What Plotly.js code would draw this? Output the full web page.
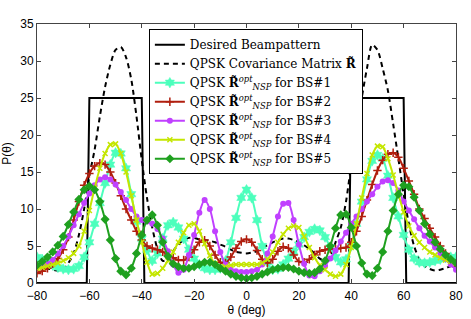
<!DOCTYPE html>
<html><head><meta charset="utf-8">
<script src="https://cdn.plot.ly/plotly-3.0.1.min.js"></script>
<style>html,body{margin:0;padding:0;background:#fff;}#chart{width:471px;height:319px;}</style>
</head><body><div id="chart"></div>
<script>
var theta = [-80,-78,-76,-74,-72,-70,-68,-66,-64,-62,-60,-58,-56,-54,-52,-50,-48,-46,-44,-42,-40,-38,-36,-34,-32,-30,-28,-26,-24,-22,-20,-18,-16,-14,-12,-10,-8,-6,-4,-2,0,2,4,6,8,10,12,14,16,18,20,22,24,26,28,30,32,34,36,38,40,42,44,46,48,50,52,54,56,58,60,62,64,66,68,70,72,74,76,78,80];
var desiredTheta = [-80,-61,-60,-40,-39,39,40,60,61,80];
var desiredP = [0,0,25,25,0,0,25,25,0,0];
var covP = [2.5,2.3,2,1.8,1.7,1.8,2.7,4,6.5,10,
  14.5,18,22.5,26.5,29.5,31.5,31.9,30.5,27.5,22.5,
  16.6,11.5,7.5,4.6,3,3.2,4.3,5.2,5.8,6.1,
  6.1,5.9,5.8,5.7,5.5,5.2,4.9,4.5,4.2,4.1,
  4,
  4.1,4.3,4.7,5.1,5.5,5.8,6,6,5.8,5.5,
  5.1,4.6,4,3.3,3,3.6,5.5,7.5,11,16,
  20.5,25,29,32.2,31.5,29,26,21.5,16.8,12,
  8,5,3.2,2.3,1.9,1.7,1.8,2,2.3,2.5];
var bs1 = [3.5,3.2,2.8,2.4,2.1,1.9,1.8,1.9,2.3,3.5,
  5.5,8,10.8,13.5,16,17.6,17.5,15.5,12,8.3,
  6,4.5,3,4,6,7.8,8.2,7.5,6,4.5,
  3.3,2.5,2,1.8,1.8,2,3,5.5,8.8,11.5,
  12.6,
  11.5,8.5,5,2.8,1.8,1.9,2.5,3.3,4.2,5.2,
  6.2,6.9,7.3,7.1,6.2,4.8,3.5,2.8,3.2,5,
  8,11,14,16.5,17.3,16.8,14.5,11.5,9,6.5,
  4.5,3.3,2.8,2.7,2.8,3,3.2,3.4,3.5,3.5];
var bs2 = [1.3,1.6,2,2.6,3.3,4.5,6.2,8.5,11,13.2,
  14.8,15.8,16.2,16,15,13.5,11.8,10,8.5,7,
  5.8,5,4.7,4.5,4.2,3.8,3.4,3.1,3.1,3.5,
  4.5,5.5,5.8,5,3.8,2.8,2.7,3.5,4.7,5.6,
  5.9,
  5.5,4.4,3.2,2.7,3.2,4.3,4.9,4.7,3.8,2.9,
  2.8,3.2,3.8,4.3,4.5,4.6,4.6,4.7,4.8,5.5,
  7,9,11.2,13.3,15.2,16.6,17.4,17.6,17,15.5,
  13.8,12,10,8.7,7.4,6.2,5,4,3,2.2];
var bs3 = [2.2,2.3,2.6,3.1,4,5,6.3,7.8,9.3,10.8,
  12.1,13.2,14,14.3,14,13.3,12.3,11.2,10,9,
  8.5,8.3,8,7.3,6,4.3,2.5,1.4,1.8,3.8,
  6.5,9.5,11.2,10,7,4.2,2.5,1.8,1.6,1.5,
  1.5,
  1.6,1.8,2.5,4,6.3,9,10.7,10.8,8.5,5.2,
  2.6,1,0.9,1.6,2.3,3.3,4.4,5.6,6.8,8,
  9,10,11,12,13,13.7,13.9,13.5,12.5,11,
  9.8,8.6,7.4,6.4,5.6,4.8,4,3.2,2.5,1.8];
var bs4 = [2,2.1,2.3,2.5,2.7,3,3.4,4,5,7,
  9.8,12.8,15.5,17.5,18.7,18.8,17.5,15,11.8,8.5,
  5.5,2.8,1.2,1.3,2,3,4.2,5.5,6.8,7.8,
  8,7,5.3,3.7,2.6,2.2,2.2,2.4,2.5,2.5,
  2.5,
  2.5,2.5,2.7,3.2,4.2,5.5,6.6,7.4,7.7,7.5,
  6.3,4.8,3.4,2.4,1.8,1.2,0.9,1.2,2.5,4.8,
  8,11.5,14.8,17.3,18.5,18.4,16.8,14.6,12,9.6,
  7.7,6.4,5.5,4.8,4.2,3.8,3.4,3.1,2.9,2.7];
var bs5 = [2.4,2.9,3.5,4.2,5.1,6.3,7.9,9.6,11.3,12.6,
  13.1,12.6,11,8.6,5.8,3.3,1.6,1.1,2,4,
  6.5,8.5,9.2,7.8,5.5,3.6,2.6,2.2,2,2,
  2.2,2.5,2.8,2.8,2.5,2,1.6,1.2,0.9,0.7,
  0.6,
  0.7,0.9,1.2,1.5,1.8,2,2.1,2.1,1.9,1.6,
  1.4,1.3,1.4,1.9,3,5,7.4,9.2,9.3,7.5,
  5,2.7,1.2,1,2,4.2,7,9.8,12,13.2,
  13,11.6,9.8,8,6.6,5.5,4.6,3.8,3.2,2.7];

var names = [
  'Desired Beampattern',
  'QPSK Covariance Matrix <b>R\u0303</b>',
  'QPSK <b>R\u0303</b><sup><i>opt</i></sup><sub><i>NSP</i></sub> for BS#1',
  'QPSK <b>R\u0303</b><sup><i>opt</i></sup><sub><i>NSP</i></sub> for BS#2',
  'QPSK <b>R\u0303</b><sup><i>opt</i></sup><sub><i>NSP</i></sub> for BS#3',
  'QPSK <b>R\u0303</b><sup><i>opt</i></sup><sub><i>NSP</i></sub> for BS#4',
  'QPSK <b>R\u0303</b><sup><i>opt</i></sup><sub><i>NSP</i></sub> for BS#5'
];

function bsTrace(y, name, color, symbol, size, lw) {
  return {x: theta, y: y, name: name, type: 'scatter', mode: 'lines+markers',
    line: {color: color, width: 2, shape: 'spline', smoothing: 0.8},
    marker: {symbol: symbol, size: size, color: color, line: {color: color, width: lw}}};
}

var data = [
  {x: desiredTheta, y: desiredP, name: names[0], type: 'scatter', mode: 'lines',
   line: {color: '#000', width: 2}},
  {x: theta, y: covP, name: names[1], type: 'scatter', mode: 'lines',
   line: {color: '#000', width: 2, dash: '5px,4px', shape: 'spline', smoothing: 0.8}},
  bsTrace(bs1, names[2], '#4CFFBC', 'hexagram', 8, 0.5),
  bsTrace(bs2, names[3], '#B01E0E', 'cross-thin', 6, 1.5),
  bsTrace(bs3, names[4], '#C040FF', 'circle', 6, 0),
  bsTrace(bs4, names[5], '#C4E600', 'x-thin', 5, 1.5),
  bsTrace(bs5, names[6], '#1FA01F', 'diamond', 7, 0)
];

var sansFont = 'Liberation Sans';
var axisCommon = {showline: true, linecolor: '#444', linewidth: 1, mirror: 'ticks',
  ticks: 'inside', ticklen: 4, tickcolor: '#444', showgrid: false, zeroline: false,
  tickfont: {family: sansFont, size: 12, color: '#000'}};

var layout = {
  width: 471, height: 319,
  margin: {l: 37, r: 15, t: 24, b: 36},
  paper_bgcolor: '#fff', plot_bgcolor: '#fff',
  showlegend: true,
  legend: {x: 0.267, y: 0.98, xanchor: 'left', yanchor: 'top',
    bgcolor: '#fff', bordercolor: '#000', borderwidth: 1,
    font: {family: 'DejaVu Serif', size: 12, color: '#000'},
    tracegroupgap: 0, itemwidth: 30},
  xaxis: Object.assign({}, axisCommon, {range: [-80, 80], dtick: 20, tick0: -80,
    ticklabelstandoff: 2,
    title: {text: '\u03b8 (deg)', standoff: 1, font: {family: sansFont, size: 12, color: '#000'}}}),
  yaxis: Object.assign({}, axisCommon, {range: [0, 35], dtick: 5, tick0: 0,
    title: {text: 'P(\u03b8)', standoff: 6, font: {family: sansFont, size: 12, color: '#000'}}})
};

Plotly.newPlot('chart', data, layout, {displayModeBar: false, staticPlot: true});
</script></body></html>
